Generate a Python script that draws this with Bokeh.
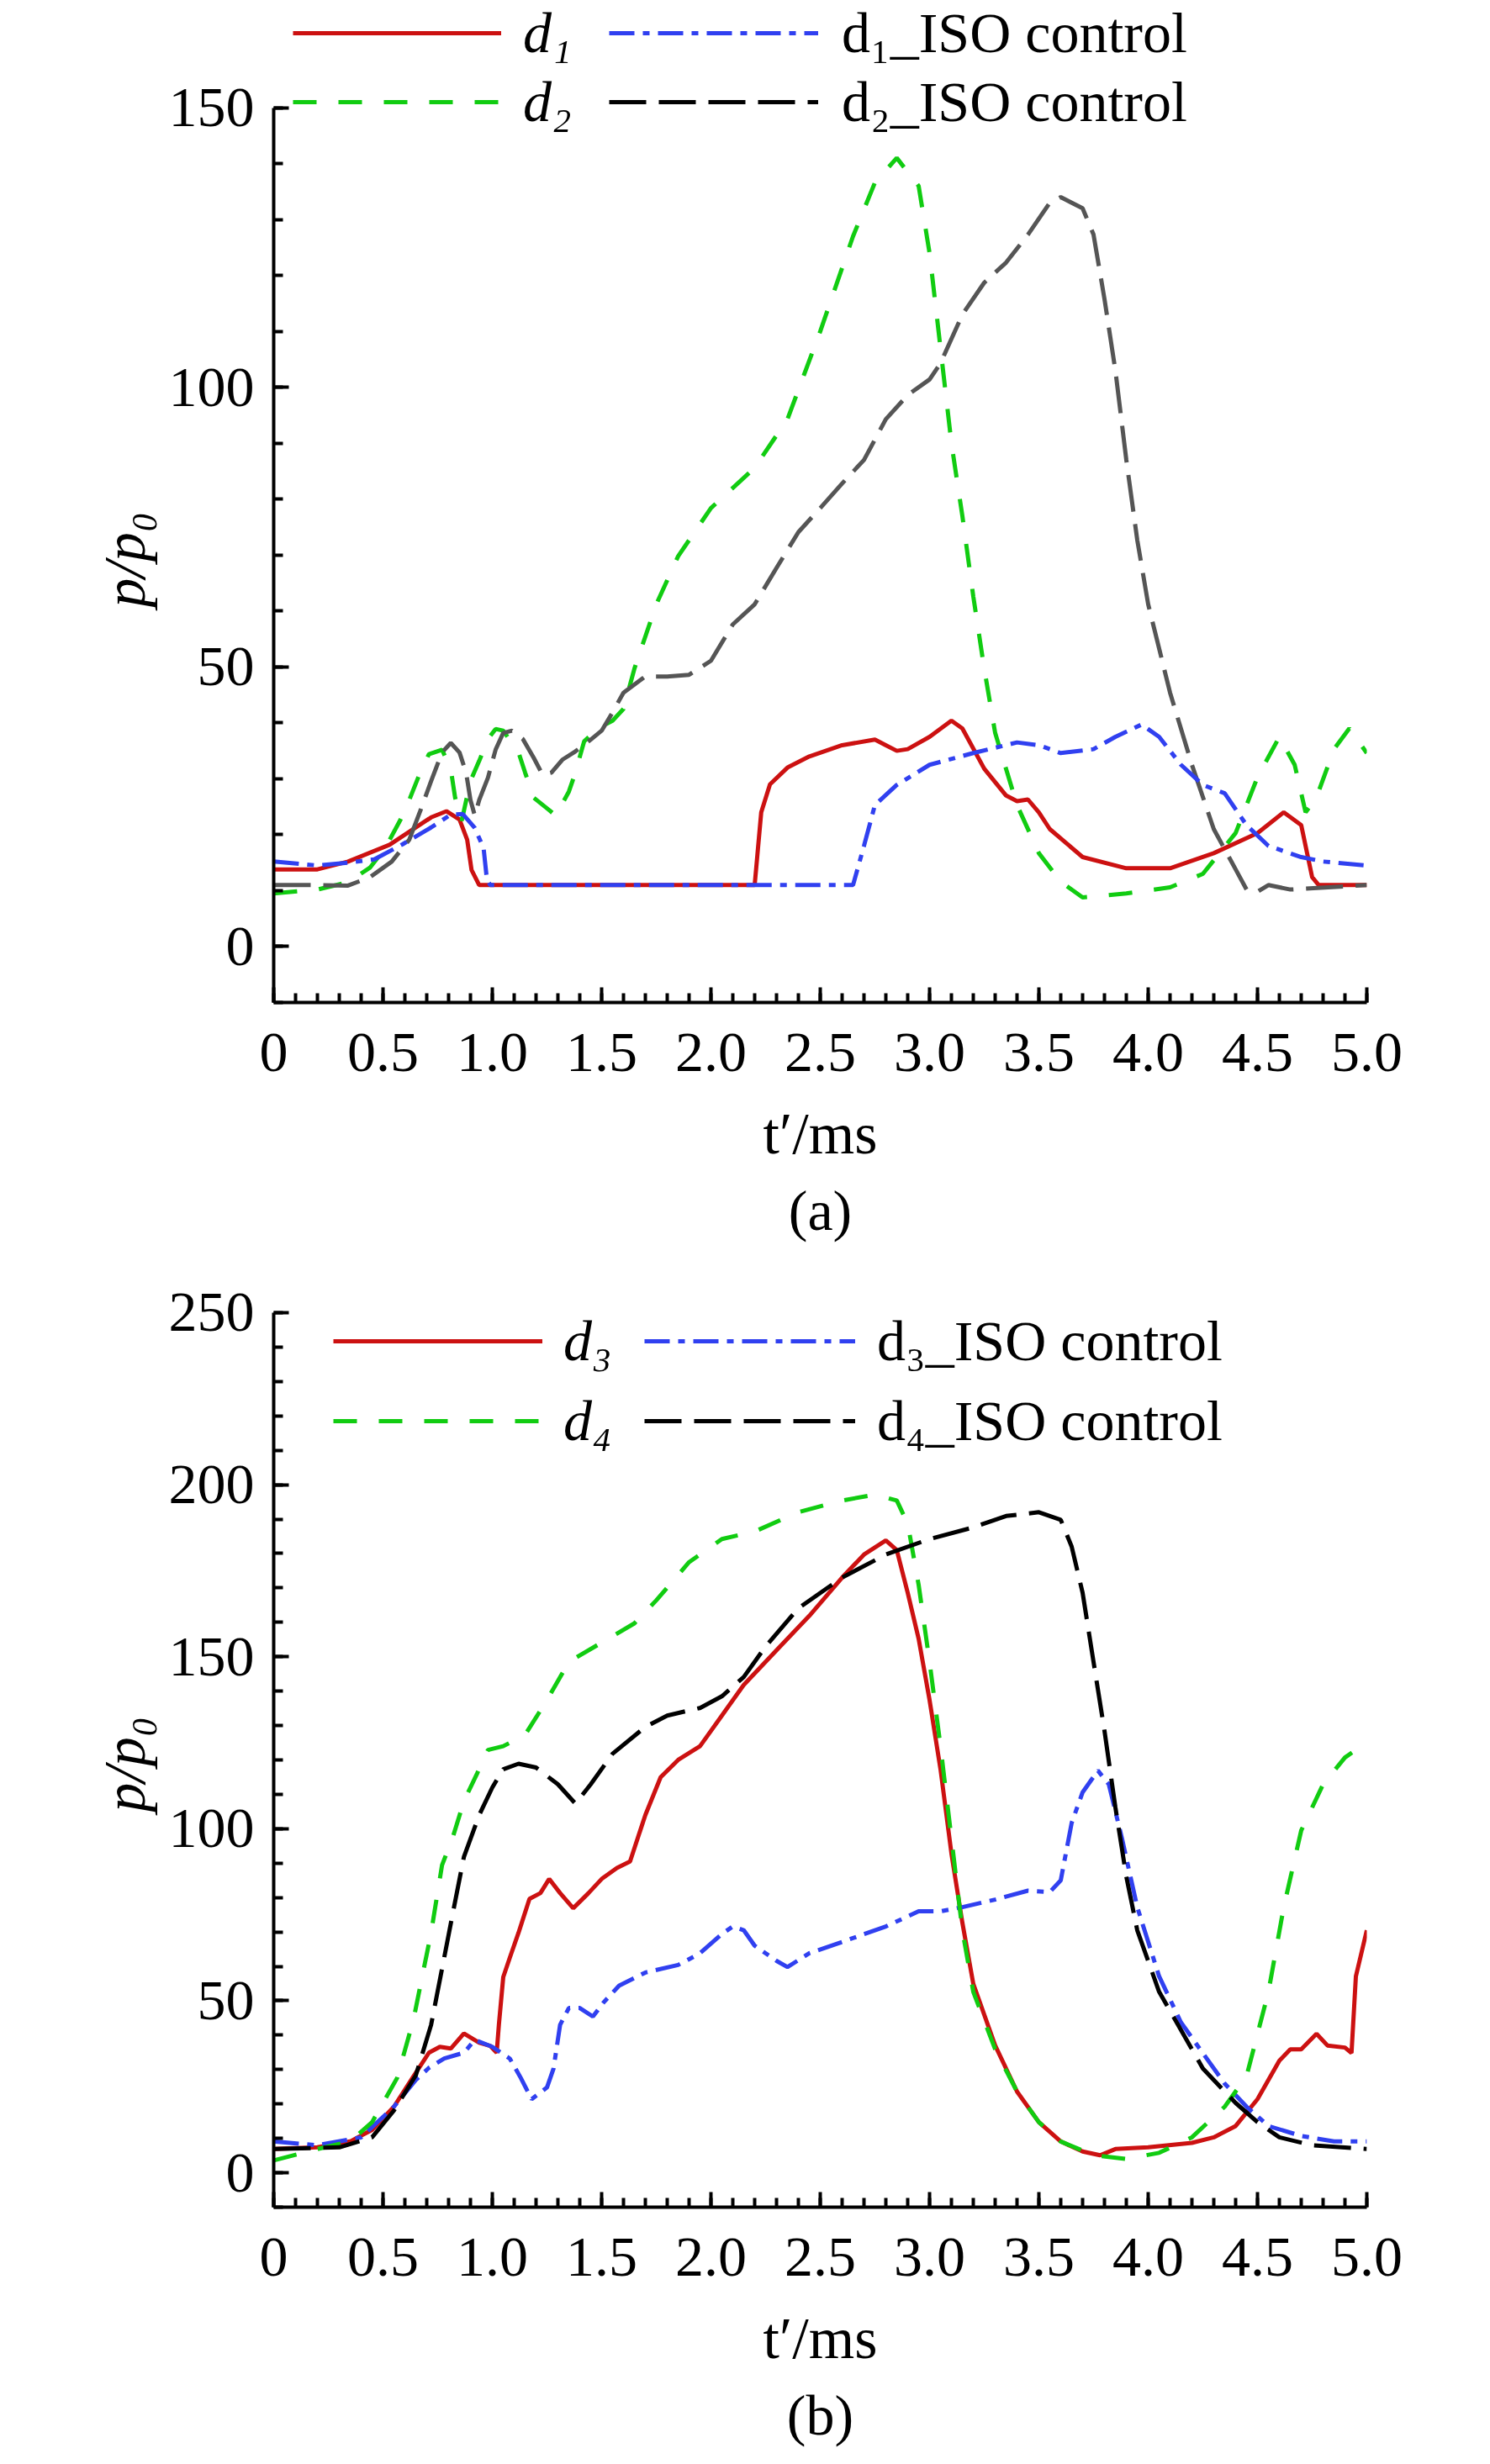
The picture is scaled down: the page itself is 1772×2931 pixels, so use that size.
import numpy as np
from bokeh.plotting import figure
from bokeh.models import (ColumnDataSource, Legend, LegendItem, SingleIntervalTicker,
                          CustomJSTickFormatter, Title, Range1d)
from bokeh.layouts import column
from bokeh.embed import file_html
from bokeh.resources import INLINE

FONT = "Liberation Serif"
RED = "#CC1111"
BLUE = "#3040F0"
GREEN = "#11CC11"
GRAY = "#555555"
BLACK = "#000000"

# ---------------- panel (a) data ----------------
t_d1 = [0, 0.2, 0.34, 0.53, 0.72, 0.79, 0.85, 0.885, 0.905, 0.94, 2.2, 2.23, 2.27, 2.35, 2.45,
        2.6, 2.75, 2.8, 2.85, 2.9, 3.0, 3.1, 3.15, 3.25, 3.35, 3.4, 3.45, 3.5, 3.55, 3.7, 3.9,
        4.1, 4.3, 4.5, 4.62, 4.7, 4.75, 4.78, 5.0]
p_d1 = [13.8, 13.8, 15.2, 18.2, 23.1, 24.2, 22.7, 19.1, 13.7, 11, 11, 24, 29, 32, 34,
        36, 37, 36, 35, 35.3, 37.5, 40.4, 39, 31.8, 27, 26, 26.3, 24, 21, 16, 14,
        14, 16.7, 20.3, 24, 21.7, 12.4, 11, 11]

t_d1_iso = [0, 0.2, 0.34, 0.46, 0.59, 0.72, 0.81, 0.865, 0.92, 0.96, 0.975, 0.99, 2.65, 2.7,
            2.75, 2.85, 3.0, 3.2, 3.4, 3.5, 3.6, 3.75, 3.85, 3.97, 4.05, 4.15, 4.25, 4.35, 4.45,
            4.55, 4.7, 4.8, 5.0]
p_d1_iso = [15.2, 14.5, 15, 15.6, 18.3, 21.3, 23.6, 23.7, 21.2, 17.6, 12.1, 11, 11, 18,
            25.3, 28.9, 32.5, 34.6, 36.5, 36, 34.6, 35.3, 37.5, 39.7, 37.5, 32.5, 28.9, 27.4, 21.7,
            18, 16, 15.2, 14.5]

t_d2 = [0, 0.2, 0.34, 0.44, 0.51, 0.58, 0.62, 0.67, 0.71, 0.77, 0.81, 0.83, 0.86, 0.9, 0.94,
        0.98, 1.015, 1.05, 1.12, 1.15, 1.19, 1.26, 1.29, 1.35, 1.38, 1.42, 1.48, 1.55, 1.6, 1.65,
        1.75, 1.85, 2.0, 2.2, 2.35, 2.5, 2.65, 2.75, 2.85, 2.95, 3.0, 3.05, 3.1, 3.15, 3.2, 3.25,
        3.3, 3.4, 3.5, 3.6, 3.7, 3.9, 4.1, 4.25, 4.4, 4.5, 4.6, 4.67, 4.72, 4.77, 4.85, 4.92, 5.0]
p_d2 = [9.5, 10.2, 11.5, 14.1, 17.6, 22.7, 26.2, 31.1, 34.4, 35.2, 31.7, 26.6, 22.5, 29.6, 33.2,
        37.1, 38.9, 38.6, 34.7, 31.1, 26.6, 24.4, 23.4, 27.7, 31.1, 36.7, 38.9, 40.4, 42.5, 49.7,
        61.2, 69.8, 78.4, 85.6, 94.3, 110, 127, 136.6, 141, 136, 124, 107, 90, 77, 62.6, 49.7,
        38.2, 25.3, 16.7, 11.6, 8.8, 9.5, 10.6, 13, 20.3, 30.3, 37.5, 32.5, 24, 26.7, 35.3, 39, 34.6]

t_d2_iso = [0, 0.2, 0.34, 0.44, 0.54, 0.62, 0.67, 0.72, 0.77, 0.81, 0.85, 0.88, 0.9, 0.92, 0.94,
            0.98, 1.015, 1.05, 1.09, 1.14, 1.19, 1.23, 1.27, 1.32, 1.38, 1.45, 1.5, 1.54, 1.6, 1.7,
            1.8, 1.9, 2.0, 2.1, 2.2, 2.3, 2.4, 2.5, 2.6, 2.7, 2.8, 2.9, 3.0, 3.05, 3.15, 3.25, 3.35,
            3.45, 3.55, 3.6, 3.7, 3.75, 3.8, 3.85, 3.9, 3.95, 4.0, 4.1, 4.2, 4.3, 4.4, 4.45, 4.5,
            4.55, 4.65, 5.0]
p_d2_iso = [11, 11, 10.9, 12.4, 15.2, 19.1, 24.2, 29.6, 34.7, 36.4, 34.7, 31.1, 26.2, 23.4, 26.2,
            30.2, 35.2, 38.2, 38.6, 37.1, 33.7, 30.7, 31.1, 33.4, 34.9, 37, 38.6, 41.2, 45.4, 48.3,
            48.3, 48.6, 51.1, 57.6, 61.2, 67.7, 74.1, 78.4, 82.8, 87, 94.3, 98.6, 101.4, 104.3,
            113, 118.7, 122.3, 127.3, 133, 134, 132, 127.3, 115.8, 103, 87, 72.7, 61.2, 45.4, 32.5,
            21, 13.8, 10.2, 9.8, 11, 10.2, 11]

# ---------------- panel (b) data ----------------
t_d3 = [0, 0.2, 0.35, 0.45, 0.55, 0.64, 0.71, 0.76, 0.81, 0.87, 0.94, 0.99, 1.02, 1.03, 1.05,
        1.08, 1.12, 1.17, 1.22, 1.26, 1.31, 1.37, 1.44, 1.5, 1.57, 1.63, 1.7, 1.77, 1.85, 1.95,
        2.05, 2.15, 2.3, 2.45, 2.6, 2.7, 2.8, 2.85, 2.9, 2.95, 3.0, 3.05, 3.1, 3.15, 3.2, 3.3,
        3.4, 3.5, 3.6, 3.7, 3.78, 3.85, 4.0, 4.2, 4.3, 4.4, 4.5, 4.6, 4.65, 4.7, 4.77, 4.82, 4.9,
        4.93, 4.95, 5.0]
p_d3 = [6.9, 7.4, 9.1, 12.5, 19.2, 28.1, 34.9, 36.6, 36.1, 40.5, 37.8, 36.9, 34.9, 43, 56.9,
        62.5, 69.8, 79.6, 81.3, 85.4, 81.3, 76.9, 81.3, 85.4, 88.6, 90.5, 104, 115, 120, 124,
        132.9, 141.8, 151.9, 161.9, 173, 179.7, 183.8, 181, 168.6, 155.2, 137.4, 117.3, 92.8,
        72.7, 54.9, 37, 23.6, 14.7, 9.1, 6.2, 5.1, 6.9, 7.4, 8.7, 10.3, 13.6, 21.4, 32.6, 35.9,
        35.9, 40.4, 37, 36.4, 34.8, 57.1, 70.5]

t_d4 = [0, 0.2, 0.35, 0.45, 0.565, 0.64, 0.72, 0.77, 0.82, 0.87, 0.93, 0.98, 1.05, 1.15, 1.25,
        1.35, 1.5, 1.65, 1.75, 1.9, 2.05, 2.2, 2.4, 2.6, 2.75, 2.85, 2.9, 2.95, 3.0, 3.05, 3.1,
        3.15, 3.2, 3.3, 3.4, 3.5, 3.6, 3.75, 3.9, 4.05, 4.2, 4.35, 4.45, 4.55, 4.62, 4.7, 4.8,
        4.9, 5.0]
p_d4 = [3.6, 6.9, 9.1, 14.7, 27.6, 44.7, 69.8, 89.4, 97.7, 108, 116, 122.9, 124, 127.3, 137.4,
        148.5, 154.1, 159.7, 166.4, 177.5, 184.2, 186.4, 192, 195.4, 197.1, 195.4, 188.7, 170.9,
        148.5, 124, 97.2, 70.5, 52.6, 35.9, 23.6, 14.7, 9.1, 5.1, 4, 5.8, 10.3, 19.2, 28.1, 52.6,
        77.2, 99.5, 112.9, 120.7, 125.1]

t_d3_iso = [0, 0.2, 0.4, 0.55, 0.65, 0.71, 0.78, 0.87, 0.92, 1.0, 1.08, 1.13, 1.18, 1.25, 1.28,
            1.31, 1.35, 1.4, 1.46, 1.51, 1.58, 1.7, 1.85, 1.95, 2.05, 2.1, 2.15, 2.2, 2.3, 2.35,
            2.45, 2.6, 2.8, 2.95, 3.05, 3.15, 3.3, 3.45, 3.55, 3.6, 3.65, 3.7, 3.77, 3.82, 3.88,
            3.95, 4.05, 4.15, 4.25, 4.35, 4.45, 4.55, 4.7, 4.85, 5.0]
p_d3_iso = [9.1, 8, 10.3, 19.2, 27, 30.5, 33.2, 34.9, 38.6, 36.6, 33.2, 27.6, 21.4, 24.8, 30.3,
            43, 47.9, 47.9, 45.4, 49.6, 54.4, 58.2, 60.4, 63.8, 69.4, 71.6, 70.5, 66, 61.6, 59.8,
            63.8, 67.1, 71.6, 76, 76, 77.2, 79.4, 82, 81.6, 85, 101.7, 110.6, 116.9, 112.9, 97.2,
            77.2, 57.1, 43.7, 34.8, 25.9, 19.2, 13.6, 10.7, 9.1, 9.1]

t_d4_iso = [0, 0.3, 0.45, 0.55, 0.65, 0.72, 0.77, 0.82, 0.87, 0.94, 1.0, 1.05, 1.12, 1.2, 1.3,
            1.38, 1.45, 1.55, 1.7, 1.8, 1.95, 2.05, 2.15, 2.25, 2.4, 2.6, 2.8, 3.0, 3.2, 3.35, 3.5,
            3.6, 3.65, 3.7, 3.75, 3.8, 3.85, 3.9, 3.95, 4.05, 4.15, 4.25, 4.4, 4.5, 4.6, 4.75, 5.0]
p_d4_iso = [6.9, 7.4, 10.3, 18.1, 28.3, 43, 59.3, 75.7, 91.8, 104, 112, 117.3, 118.9, 117.8,
            112.9, 107.3, 112.9, 121.8, 129.6, 132.9, 135.1, 138.5, 144.1, 153, 164.1, 173, 179.7,
            184.2, 187.6, 190.9, 192, 189.8, 182, 168.6, 148.5, 128.5, 106.2, 86.1, 70.5, 52.6,
            41.5, 30.3, 20.3, 14.7, 10.3, 8, 6.9]

x_ticks_interval = 0.5
y_ticks_interval = 50
x_label = "t\u2032/ms"
y_label = "p/p\u2080"


def make_panel(ymax, yshow, frame_h, top, bottom, caption, ylab_offset):
    p = figure(frame_width=1300, frame_height=frame_h,
               x_range=Range1d(0, 5), y_range=Range1d(-10, ymax),
               output_backend="svg", toolbar_location=None,
               min_border_left=325, min_border_right=131,
               min_border_top=top, min_border_bottom=bottom)
    p.outline_line_color = None
    p.grid.visible = False
    p.background_fill_color = "white"
    p.border_fill_color = "white"
    p.xaxis.ticker = SingleIntervalTicker(interval=x_ticks_interval, num_minor_ticks=5)
    p.yaxis.ticker = SingleIntervalTicker(interval=y_ticks_interval, num_minor_ticks=5)
    p.yaxis.bounds = (-10, yshow)
    p.xaxis.formatter = CustomJSTickFormatter(code="return tick == 0 ? '0' : tick.toFixed(1);")
    for ax in (p.xaxis[0], p.yaxis[0]):
        ax.axis_line_width = 4
        ax.axis_line_color = "black"
        ax.major_tick_line_width = 4
        ax.minor_tick_line_width = 4
        ax.major_tick_line_color = "black"
        ax.minor_tick_line_color = "black"
        ax.major_tick_in = 18
        ax.major_tick_out = 0
        ax.minor_tick_in = 11
        ax.minor_tick_out = 0
        ax.major_label_text_font = FONT
        ax.major_label_text_font_size = "68px"
        ax.major_label_text_color = "black"
        ax.axis_label_text_font = FONT
        ax.axis_label_text_font_size = "70px"
        ax.axis_label_text_color = "black"
    p.xaxis.major_label_standoff = 37
    p.yaxis.major_label_standoff = 23
    p.xaxis.axis_label = x_label
    p.xaxis.axis_label_text_font_style = "normal"
    p.xaxis.axis_label_standoff = 33
    ylab = Title(text=y_label, align="left", offset=ylab_offset, text_font=FONT,
                 text_font_size="70px", text_font_style="italic", text_color="black",
                 standoff=22)
    p.add_layout(ylab, "left")
    cap = Title(text=caption, align="center", text_font=FONT, text_font_size="68px",
                text_font_style="normal", text_color="black", standoff=21)
    p.add_layout(cap, "below")
    return p


def add_line(p, t, v, color, dash):
    src = ColumnDataSource(dict(t=t, p=v))
    return p.line(x="t", y="p", source=src, line_color=color, line_width=5, line_dash=dash)


def add_legend(p, items, x, y, gw, standoff, spacing, italic):
    lg = Legend(items=items, location=(x, y), orientation="vertical",
                glyph_width=gw, glyph_height=80, label_height=80, label_standoff=standoff,
                spacing=spacing, padding=0, margin=0,
                background_fill_alpha=0, border_line_alpha=0,
                label_text_font=FONT, label_text_font_size="68px", label_text_color="black",
                label_text_font_style="italic" if italic else "normal")
    p.add_layout(lg)


DASH_G = "28 26"
DASH_K = "44 15"
DASH_B = "30 10 8 10"

# ---------- (a) ----------
pa = make_panel(169.17, 150, 1192, 0, 300, "(a)", 470)
r1 = add_line(pa, t_d1, p_d1, RED, "solid")
r3 = add_line(pa, t_d2, p_d2, GREEN, DASH_G)
r4 = add_line(pa, t_d2_iso, p_d2_iso, GRAY, DASH_K)
r2 = add_line(pa, t_d1_iso, p_d1_iso, BLUE, DASH_B)
r4k = pa.line(x=np.array([np.nan]), y=np.array([np.nan]), line_color=BLACK, line_width=5,
              line_dash=DASH_K)
add_legend(pa, [LegendItem(label="d\u2081", renderers=[r1]),
                LegendItem(label="d\u2082", renderers=[r3])],
           23, 1031, 248, 26, 2, True)
add_legend(pa, [LegendItem(label="d\u2081_ISO control", renderers=[r2]),
                LegendItem(label="d\u2082_ISO control", renderers=[r4k])],
           399, 1031, 249, 28, 2, False)

# ---------- (b) ----------
pb = make_panel(257.08, 250, 1093, 40, 290, "(b)", 470)
s1 = add_line(pb, t_d3, p_d3, RED, "solid")
s2 = add_line(pb, t_d3_iso, p_d3_iso, BLUE, DASH_B)
s3 = add_line(pb, t_d4, p_d4, GREEN, DASH_G)
s4 = add_line(pb, t_d4_iso, p_d4_iso, BLACK, DASH_K)
add_legend(pb, [LegendItem(label="d\u2083", renderers=[s1]),
                LegendItem(label="d\u2084", renderers=[s3])],
           71, 895, 249, 25, 15, True)
add_legend(pb, [LegendItem(label="d\u2083_ISO control", renderers=[s2]),
                LegendItem(label="d\u2084_ISO control", renderers=[s4])],
           441, 895, 251, 26, 15, False)

layout = column(pa, pb)
open("out.html", "w").write(file_html(layout, INLINE))
